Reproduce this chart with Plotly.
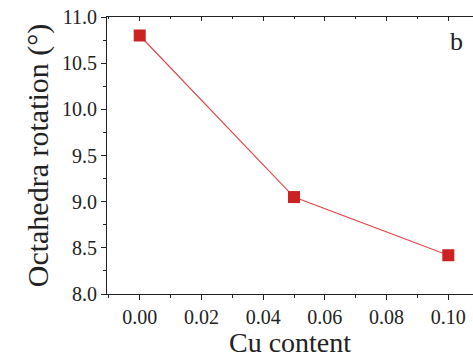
import plotly.graph_objects as go

cu_content = [0.00, 0.05, 0.10]
rotation_deg = [10.80, 9.05, 8.42]

x_range = [-0.0106, 0.108]
y_range = [8.0, 11.0]
serif = "Liberation Serif, Times New Roman, serif"

fig = go.Figure()
fig.add_trace(go.Scatter(
    x=cu_content, y=rotation_deg, mode="lines+markers",
    line=dict(color="#e04848", width=1.2),
    marker=dict(symbol="square", size=12, color="#cc2222",
                line=dict(color="#cc2222", width=0)),
    showlegend=False,
))
# invisible trace bound to the top axis so it renders
fig.add_trace(go.Scatter(x=[cu_content[0]], y=[rotation_deg[0]], xaxis="x2",
                         mode="markers", marker=dict(opacity=0),
                         showlegend=False, hoverinfo="skip"))

axis_common = dict(showline=True, linecolor="#222", linewidth=1.2,
                   showgrid=False, zeroline=False, tickcolor="#222")
tick_font = dict(size=20, family=serif, color="#222")

fig.update_layout(
    width=473, height=358,
    margin=dict(l=107, r=0, t=17, b=64),
    paper_bgcolor="white", plot_bgcolor="white",
    font=dict(family=serif, color="#222"),
    xaxis=dict(range=x_range, tick0=0, dtick=0.02, tickformat=".2f",
               ticks="outside", ticklen=5, tickwidth=1.2,
               minor=dict(dtick=0.01, ticks="outside", ticklen=3, tickcolor="#222"),
               tickfont=tick_font,
               title=dict(text="Cu content", font=dict(size=28, family=serif), standoff=6),
               **axis_common),
    xaxis2=dict(range=x_range, overlaying="x", side="top", tick0=0, dtick=0.02,
                ticks="inside", ticklen=4, tickwidth=1.2, showticklabels=False,
                minor=dict(dtick=0.01, ticks="inside", ticklen=2, tickcolor="#222"),
                **axis_common),
    yaxis=dict(range=y_range, dtick=0.5, tickformat=".1f",
               ticks="outside", ticklen=5, tickwidth=1.2,
               minor=dict(dtick=0.25, ticks="outside", ticklen=3, tickcolor="#222"),
               tickfont=tick_font,
               title=dict(text="Octahedra rotation (°)", font=dict(size=30, family=serif), standoff=4),
               **axis_common),
    annotations=[dict(text="b", x=0.954, y=0.91, xref="paper", yref="paper",
                      xanchor="center", yanchor="middle", showarrow=False,
                      font=dict(size=26, family=serif, color="#222"))],
)

fig.write_html("out.html")
